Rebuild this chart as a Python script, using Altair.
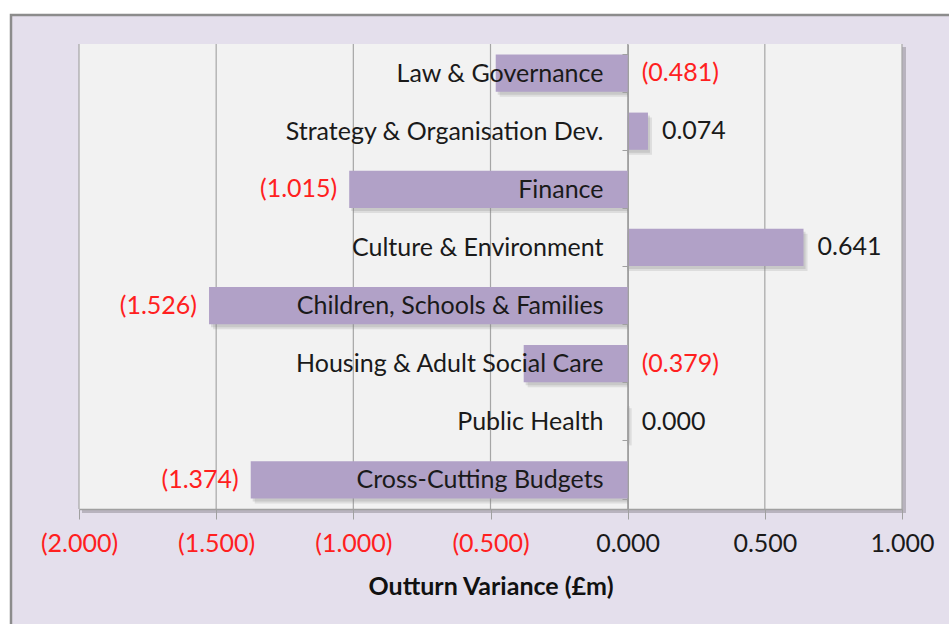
import altair as alt
import pandas as pd

categories = [
    "Law & Governance",
    "Strategy & Organisation Dev.",
    "Finance",
    "Culture & Environment",
    "Children, Schools & Families",
    "Housing & Adult Social Care",
    "Public Health",
    "Cross-Cutting Budgets",
]
values = [-0.481, 0.074, -1.015, 0.641, -1.526, -0.379, 0.000, -1.374]
tick_values = [-2.0, -1.5, -1.0, -0.5, 0.0, 0.5, 1.0]

FONT = "Lato"
FS = 25
W, H = 823, 465

df = pd.DataFrame({"cat": categories, "val": values})
df["label"] = [f"({-v:.3f})" if v < 0 else f"{v:.3f}" for v in values]
df["neg"] = [v < 0 for v in values]
df["outside"] = [v < -0.5 for v in values]
df["lx"] = [v if v < -0.5 else max(v, 0.0) for v in values]

grid_df = pd.DataFrame({"t": tick_values})

xscale = alt.Scale(domain=[-2, 1], nice=False, zero=False)
yscale = alt.Scale(domain=categories, paddingInner=0.36, paddingOuter=0.18)

x_axis = alt.Axis(
    values=tick_values,
    grid=False,
    zindex=1,
    labelFlush=False,
    labelOverlap=False,
    labelExpr="datum.value < 0 ? '(' + format(-datum.value, '.3f') + ')' : format(datum.value, '.3f')",
    labelColor={"condition": {"test": "datum.value < 0", "value": "#FF2020"}, "value": "#1A1A1A"},
    labelFont=FONT,
    labelFontSize=FS,
    labelPadding=12,
    tickSize=10,
    tickColor="#A0A0A0",
    domainColor="#A0A0A0",
    domainWidth=1.5,
    title="Outturn Variance (£m)",
    titleFont=FONT,
    titleFontSize=25,
    titleFontWeight="bold",
    titleColor="#111111",
    titlePadding=18,
)

y_axis = alt.Axis(
    title=None,
    orient="left",
    offset=-549,
    zindex=1,
    tickBand="extent",
    tickSize=6,
    tickColor="#A0A0A0",
    domainColor="#A0A0A0",
    labelFont=FONT,
    labelFontSize=FS,
    labelColor="#1A1A1A",
    labelPadding=19,
    labelLimit=600,
)

base = alt.Chart(df)

frame = alt.Chart(pd.DataFrame({"k": [0]})).mark_rect(
    fill="#E4DFEC", stroke="#8C8C8C", strokeWidth=2.5
).encode(
    x=alt.value(-68), x2=alt.value(W + 60), y=alt.value(-29), y2=alt.value(H + 130)
)
plot_shadow = alt.Chart(pd.DataFrame({"k": [0]})).mark_rect(
    fill="#B0ACB6", opacity=0.85
).encode(x=alt.value(3), x2=alt.value(W + 4), y=alt.value(3), y2=alt.value(H + 4))
plot_bg = alt.Chart(pd.DataFrame({"k": [0]})).mark_rect(fill="#F2F2F2").encode(
    x=alt.value(0), x2=alt.value(W), y=alt.value(0), y2=alt.value(H)
)

grid = alt.Chart(grid_df).mark_rule(color="#A6A6A6", strokeWidth=1.2).encode(
    x=alt.X("t:Q", scale=xscale, axis=x_axis),
    y=alt.value(0),
    y2=alt.value(H),
)

shadow1 = base.mark_bar(color="#7F7F7F", opacity=0.22, xOffset=2, yOffset=3).encode(
    x=alt.X("val:Q", scale=xscale),
    x2=alt.datum(0),
    y=alt.Y("cat:N", scale=yscale, axis=y_axis, sort=categories),
)
shadow2 = base.mark_bar(color="#7F7F7F", opacity=0.18, xOffset=4, yOffset=5).encode(
    x=alt.X("val:Q", scale=xscale),
    x2=alt.datum(0),
    y=alt.Y("cat:N", scale=yscale, sort=categories),
)

bars = base.mark_bar(color="#B1A1C7").encode(
    x=alt.X("val:Q", scale=xscale),
    x2=alt.datum(0),
    y=alt.Y("cat:N", scale=yscale, sort=categories),
)

color_enc = alt.Color(
    "neg:N", scale=alt.Scale(domain=[True, False], range=["#FF2020", "#1A1A1A"]), legend=None
)

labels_out = base.transform_filter("datum.outside").mark_text(
    align="right", baseline="middle", dx=-12, font=FONT, fontSize=FS
).encode(
    x=alt.X("lx:Q", scale=xscale),
    y=alt.Y("cat:N", scale=yscale, sort=categories),
    text="label:N",
    color=color_enc,
)
labels_in = base.transform_filter("!datum.outside").mark_text(
    align="left", baseline="middle", dx=14, font=FONT, fontSize=FS
).encode(
    x=alt.X("lx:Q", scale=xscale),
    y=alt.Y("cat:N", scale=yscale, sort=categories),
    text="label:N",
    color=color_enc,
)

chart = alt.layer(
    frame, plot_shadow, plot_bg, grid, shadow2, shadow1, bars, labels_out, labels_in
).properties(
    width=W,
    height=H,
    padding={"left": 79, "top": 44, "right": 47, "bottom": 115},
    autosize=alt.AutoSizeParams(type="none"),
    background="white",
).configure_view(stroke=None)

chart.save("out.html", embed_options={"renderer": "svg", "actions": False})
